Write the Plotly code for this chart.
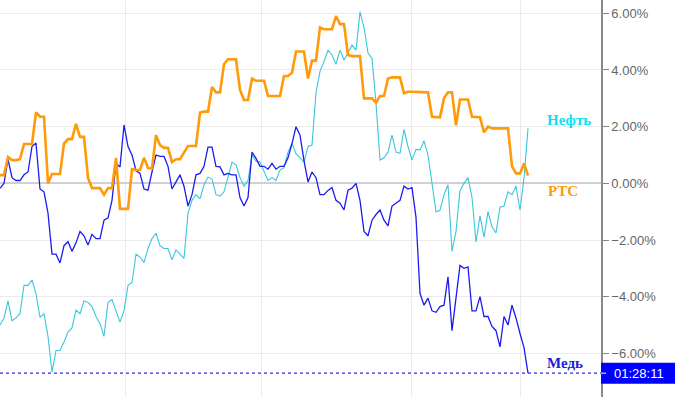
import plotly.graph_objects as go

# Values in percent change, one sample per time step
rts = [0.29,0.29,0.93,0.82,0.82,0.85,1.39,1.39,1.39,2.5,2.35,2.35,0.0,0.33,0.33,0.33,1.4,1.56,1.56,2.1,
       1.64,1.64,0.2,-0.17,-0.17,-0.17,-0.4,-0.17,-0.17,0.9,-0.9,-0.9,-0.9,0.5,0.47,0.47,0.9,0.54,0.53,1.7,
       1.35,1.25,1.25,0.75,0.85,0.85,1.1,1.32,1.32,1.32,2.5,2.53,2.53,3.4,3.21,3.21,4.2,4.38,4.38,4.38,
       3.3,2.94,2.94,3.7,3.62,3.62,3.62,3.08,3.08,3.08,3.08,3.79,3.79,3.9,4.65,4.65,4.65,3.7,4.33,4.33,
       5.5,5.44,5.44,5.44,5.9,5.62,5.62,4.53,4.49,4.49,4.49,3.0,3.0,3.0,2.85,3.08,3.08,3.7,3.74,3.74,
       3.74,3.18,3.23,3.23,3.23,3.23,3.21,3.21,2.35,2.33,2.33,3.0,3.21,3.21,2.05,2.96,2.96,2.96,2.35,2.33,
       2.33,1.8,2.0,1.94,1.94,1.94,1.94,1.94,0.6,0.35,0.35,0.7,0.27]

copper = [-0.18,0.0,0.85,0.2,0.1,0.1,0.3,0.4,1.3,1.42,-0.2,-0.3,-1.05,-2.5,-2.5,-2.81,-2.2,-2.06,-2.4,-2.1,
          -1.7,-1.85,-2.18,-1.8,-1.95,-1.95,-1.3,-1.22,-0.6,0.7,0.58,2.06,1.3,1.0,0.45,0.35,-0.2,-0.24,0.4,1.0,
          0.95,0.95,0.6,-0.2,0.05,0.3,-0.1,-0.8,-0.4,0.3,0.35,0.6,1.28,1.28,0.6,0.58,0.3,0.35,0.3,0.3,
          -0.5,-0.8,-0.5,1.1,0.88,0.6,0.6,0.5,0.7,0.5,0.6,0.6,0.9,1.4,2.0,1.7,0.8,0.05,0.4,0.2,
          -0.4,-0.4,-0.25,-0.15,-0.6,-0.7,-0.94,-0.24,-0.17,0.0,-0.6,-1.7,-1.85,-1.3,-1.1,-0.94,-1.3,-1.5,-0.8,-0.7,
          -0.6,-0.1,-0.2,-0.15,-1.2,-3.88,-4.3,-4.05,-4.5,-4.55,-4.35,-4.3,-3.3,-5.2,-4.1,-2.9,-3.0,-2.95,-4.5,-4.5,
          -4.0,-4.7,-4.7,-5.05,-5.2,-5.77,-4.7,-5.0,-4.3,-4.75,-5.3,-5.8,-6.7]

oil = [-5.0,-4.75,-4.15,-4.85,-4.75,-4.6,-3.6,-3.6,-3.41,-3.9,-4.73,-4.6,-5.4,-6.66,-5.9,-5.9,-5.6,-5.25,-5.1,-4.47,
       -4.6,-4.15,-4.2,-4.35,-4.7,-4.95,-5.4,-4.2,-4.1,-4.5,-4.9,-4.5,-3.6,-3.5,-2.5,-2.6,-2.8,-2.3,-1.95,-1.76,
       -2.2,-2.3,-2.3,-2.7,-2.35,-2.5,-2.65,-1.05,-0.6,-0.4,-0.55,-0.05,0.22,0.15,-0.4,-0.45,-0.3,0.22,0.75,0.65,
       0.2,-0.1,0.1,1.0,0.78,0.75,0.4,0.1,0.2,0.1,0.47,0.55,1.1,1.42,1.05,0.9,0.75,1.3,1.35,3.2,
       3.95,4.3,4.7,4.53,4.2,4.7,4.35,4.6,4.88,4.7,6.05,5.5,4.6,4.41,2.83,0.82,0.9,1.1,1.7,1.1,
       1.06,1.9,1.3,0.82,1.2,1.18,1.5,1.0,0.0,-1.0,-0.95,-0.4,-0.05,-2.4,-1.7,-0.25,0.0,0.2,-0.5,-2.07,
       -1.15,-1.9,-1.0,-1.53,-1.75,-0.84,-0.8,-0.3,-0.4,-0.1,-0.94,0.2,1.94]

series_names = ["Нефть", "РТС", "Медь"]
y_ticks = [-6, -4, -2, 0, 2, 4, 6]
clock_label = "01:28:11"

steps = list(range(len(rts)))

fig = go.Figure()
fig.add_trace(go.Scatter(x=steps, y=oil, mode="lines", line=dict(color="#3cc6dc", width=1.1),
                         name=series_names[0], hoverinfo="skip"))
fig.add_trace(go.Scatter(x=steps, y=copper, mode="lines", line=dict(color="#1c1cf0", width=1.3),
                         name=series_names[2], hoverinfo="skip"))
fig.add_trace(go.Scatter(x=steps, y=rts, mode="lines", line=dict(color="#ff9a0a", width=2.6),
                         name=series_names[1], hoverinfo="skip"))

last_cu = copper[-1]

fig.add_shape(type="line", xref="paper", x0=0, x1=1, yref="y", y0=last_cu, y1=last_cu,
              line=dict(color="#2a2af5", width=1.3, dash="dot"))
fig.add_shape(type="rect", xref="paper", x0=1, x1=1 + 75 / 601, yref="y",
              y0=last_cu - 0.37, y1=last_cu + 0.37, fillcolor="#0000ff", line=dict(width=0))
fig.add_shape(type="line", xref="paper", x0=1, x1=1 + 5 / 601, yref="y", y0=last_cu, y1=last_cu,
              line=dict(color="white", width=1))
fig.add_annotation(xref="paper", x=1 + 11 / 601, xanchor="left", yref="y", y=last_cu,
                   text=clock_label, showarrow=False,
                   font=dict(family="Liberation Sans, Arial", size=13, color="white"))

label_font = "Liberation Serif, Times New Roman, serif"
fig.add_annotation(xref="paper", x=569 / 601, xanchor="center", yref="y", y=2.22,
                   text="<b>" + series_names[0] + "</b>",
                   showarrow=False, font=dict(family=label_font, size=15, color="#08e2f2"))
fig.add_annotation(xref="paper", x=563 / 601, xanchor="center", yref="y", y=-0.27,
                   text="<b>" + series_names[1] + "</b>",
                   showarrow=False, font=dict(family=label_font, size=15, color="#ff9a0a"))
fig.add_annotation(xref="paper", x=565 / 601, xanchor="center", yref="y", y=-6.34,
                   text="<b>" + series_names[2] + "</b>",
                   showarrow=False, font=dict(family=label_font, size=15, color="#1c1cd8"))

fig.update_layout(
    width=675, height=397,
    margin=dict(l=0, r=74, t=0, b=0),
    paper_bgcolor="white", plot_bgcolor="white",
    showlegend=False, hovermode=False,
    xaxis=dict(range=[0, 601 / 4], showticklabels=False, ticks="",
               tickvals=[31.25, 65.25, 102.75, 130.0],
               showgrid=True, gridcolor="#ebebeb", gridwidth=1, zeroline=False, showline=False),
    yaxis=dict(side="right", range=[-7.54, 6.47], tickvals=y_ticks,
               ticktext=[("−" if v < 0 else "") + "%.2f%%" % abs(v) for v in y_ticks],
               ticks="outside", ticklen=6, tickcolor="#888888", tickwidth=1,
               showline=True, linecolor="#8a8a8a", linewidth=1.5,
               showgrid=True, gridcolor="#ebebeb", gridwidth=1,
               zeroline=True, zerolinecolor="#cfcfd4", zerolinewidth=2,
               tickfont=dict(family="Liberation Sans, Arial", size=13, color="#666666")),
)

fig.write_html("out.html", config={"displayModeBar": False},
               post_script="document.body.style.margin='0';document.body.style.overflow='hidden';")
